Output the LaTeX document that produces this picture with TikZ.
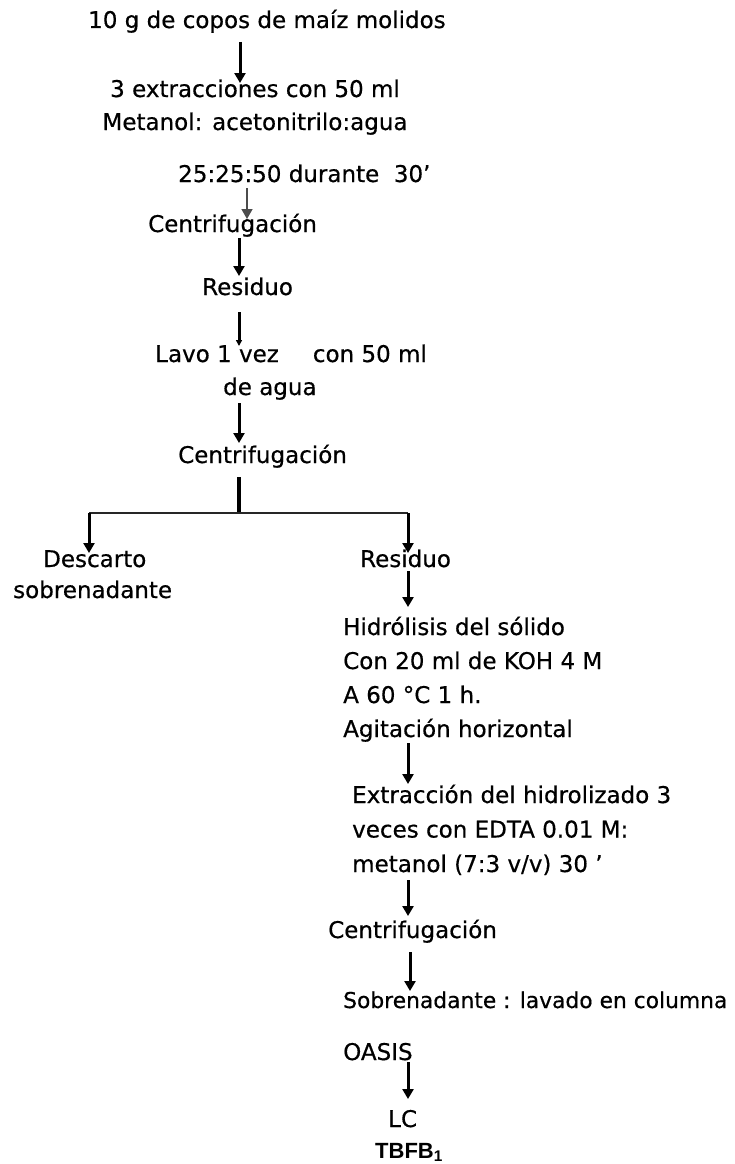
\documentclass[tikz,border=0pt]{standalone}
\usepackage{fontspec}
\setmainfont{DejaVu Sans}[FakeBold=0.5]
\newfontfamily\labfont{Liberation Sans}
\usetikzlibrary{arrows.meta}

\begin{document}
\begin{tikzpicture}[x=1pt,y=-1pt,
  txt/.style={anchor=base west, inner sep=0pt, font=\fontsize{23}{34}\selectfont, align=left},
  ctxt/.style={anchor=base, inner sep=0pt, font=\fontsize{23}{33}\selectfont, align=center},
  flow/.style={line width=3pt, -{Triangle[length=10pt,width=11pt]}},
  link/.style={line width=1.8pt, draw=black!85}]
\useasboundingbox[fill=white] (0,0) rectangle (735,1164);

% upper trunk (multi-line nodes sit on the baseline of their last line)
\node[txt] (maiz) at (88,28) {10 g de copos de maíz molidos};
\node[ctxt] (ext) at (255,130) {3 extracciones con 50 ml\\Metanol: acetonitrilo:agua};
\node[txt] (mezcla) at (178,182) {25:25:50 durante\ \ 30'};
\node[txt] (cent1) at (148,232) {Centrifugación};
\node[txt] (res1) at (202,295) {Residuo};
\node[txt] (lavo) at (155,362) {Lavo 1 vez\hspace{34pt}con 50 ml};
\node[txt] (agua) at (223,395) {de agua};
\node[txt] (cent2) at (178,463) {Centrifugación};

% branches
\node[txt] (desc) at (43,567) {Descarto};
\node[txt] (sobre) at (13,598) {sobrenadante};
\node[txt] (res2) at (360,567) {Residuo};

% right column
\node[txt] (hidro) at (343,737) {Hidrólisis del sólido\\Con 20 ml de KOH 4 M\\A 60 °C 1 h.\\Agitación horizontal};
\node[txt, font=\fontsize{23}{34.5}\selectfont] (extr) at (352,872) {Extracción del hidrolizado 3\\veces con EDTA 0.01 M:\\metanol (7:3 v/v) 30 '};
\node[txt] (cent3) at (328,938) {Centrifugación};
\node[txt, font=\fontsize{21.8}{34}\selectfont] (lav) at (343,1008) {Sobrenadante : lavado en columna};
\node[txt] (oasis) at (343,1060) {OASIS};
\node[txt] (lc) at (388,1127) {LC};
\node[anchor=base west, inner sep=0pt, font=\labfont\bfseries\fontsize{22}{24}\selectfont] (tbfb) at (375,1158) {TBFB\textsubscript{1}};

% connector ends
\coordinate (a1s) at (240,42);  \coordinate (a1e) at (240,83);
\coordinate (a2s) at (247,188); \coordinate (a2e) at (247,219);
\coordinate (a3s) at (239,238); \coordinate (a3e) at (239,276);
\coordinate (a4s) at (239,312); \coordinate (a4e) at (239,346);
\coordinate (a5s) at (239,403); \coordinate (a5e) at (239,443);
\coordinate (spl) at (239,477); \coordinate (bar) at (239,513);
\coordinate (bl) at (89,513);   \coordinate (br) at (408,513);
\coordinate (ble) at (89,553);  \coordinate (bre) at (408,553);
\coordinate (a6s) at (408,571); \coordinate (a6e) at (408,607);
\coordinate (a7s) at (408,743); \coordinate (a7e) at (408,784);
\coordinate (a8s) at (408,880); \coordinate (a8e) at (408,916);
\coordinate (a9s) at (410,952); \coordinate (a9e) at (410,991);
\coordinate (a10s) at (408,1062); \coordinate (a10e) at (408,1099);

\draw[flow] (a1s) -- (a1e);
\draw[flow, line width=1.4pt, draw=black!70] (a2s) -- (a2e);
\draw[flow] (a3s) -- (a3e);
\draw[flow, -{Triangle[length=6pt,width=6pt]}] (a4s) -- (a4e);
\draw[flow] (a5s) -- (a5e);
\draw[link, line width=3.2pt, draw=black] (spl) -- (bar);
\draw[link] (bl) -- (br);
\draw[flow] (bl) -- (ble);
\draw[flow] (br) -- (bre);
\draw[flow] (a6s) -- (a6e);
\draw[flow] (a7s) -- (a7e);
\draw[flow] (a8s) -- (a8e);
\draw[flow] (a9s) -- (a9e);
\draw[flow] (a10s) -- (a10e);
\end{tikzpicture}
\end{document}
